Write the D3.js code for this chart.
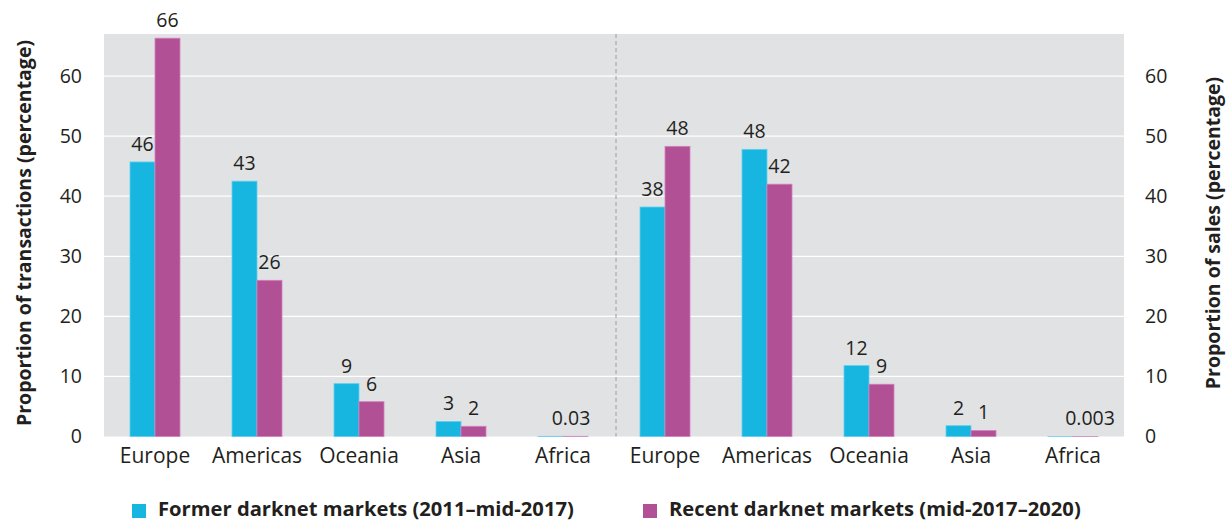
<!DOCTYPE html>
<html><head><meta charset="utf-8">
<script src="https://cdn.jsdelivr.net/npm/d3@7"></script>
<style>body{margin:0;background:#fff;} text{font-family:"Open Sans",sans-serif;fill:#231f20;}</style>
</head><body><svg id="c" width="1226" height="522"></svg>
<script>
const categories = ["Europe","Americas","Oceania","Asia","Africa","Europe","Americas","Oceania","Asia","Africa"];
const former = [45.7, 42.5, 8.8, 2.5, 0.03, 38.2, 47.8, 11.8, 1.8, 0.003];
const recent = [66.3, 26.0, 5.8, 1.7, 0.03, 48.3, 42.0, 8.7, 1.0, 0.003];
const formerLabels = ["46","43","9","3","","38","48","12","2",""];
const recentLabels = ["66","26","6","2","","48","42","9","1",""];
const groupLabels = ["","","","","0.03","","","","","0.003"];
const yTicks = [0,10,20,30,40,50,60];
const seriesNames = ["Former darknet markets (2011\u2013mid-2017)","Recent darknet markets (mid-2017\u20132020)"];
const colors = ["#17b6e1","#b25096"];
const strokes = ["#5fd0ef","#d47fbf"];

const svg = d3.select("#c");
const L=104,R=1124,T=34,B=436.5;
const x = d3.scaleBand().domain(d3.range(categories.length)).range([L,R]).paddingInner(0).paddingOuter(0);
const xs = d3.scaleBand().domain([0,1]).range([0,50]);
const y = d3.scaleLinear().domain([0,67]).range([B,T]);

svg.append("rect").attr("x",L).attr("y",T).attr("width",R-L).attr("height",B-T).attr("fill","#e1e2e4");
svg.append("g").selectAll("line").data(yTicks.filter(d=>d>0)).join("line")
  .attr("x1",L).attr("x2",R).attr("y1",d=>y(d)).attr("y2",d=>y(d)).attr("stroke","#fff").attr("stroke-width",1.2);
const mid = x(5);
svg.append("line").attr("x1",mid+2).attr("x2",mid+2).attr("y1",T).attr("y2",B)
  .attr("stroke","#a8a9ab").attr("stroke-dasharray","4,3").attr("stroke-width",1.2);

const off = d => x(d) + (x.bandwidth()-50)/2;
[former,recent].forEach((vals,si)=>{
  svg.append("g").selectAll("rect").data(vals).join("rect")
    .attr("x",(v,i)=>off(i)+xs(si)).attr("width",xs.bandwidth())
    .attr("y",v=>y(v)).attr("height",v=>B-y(v))
    .attr("fill",colors[si]).attr("stroke",strokes[si]).attr("stroke-width",0.8);
});
[formerLabels,recentLabels].forEach((labs,si)=>{
  const vals = si===0?former:recent;
  svg.append("g").selectAll("text").data(labs).join("text")
    .attr("x",(t,i)=>off(i)+xs(si)+xs.bandwidth()/2).attr("y",(t,i)=>y(vals[i])-11)
    .attr("text-anchor","middle").attr("font-size",19.5).text(t=>t);
});
svg.append("g").selectAll("text").data(groupLabels).join("text")
  .attr("x",(t,i)=>x(i)+x.bandwidth()/2+ (i===4?8:17)).attr("y",(t,i)=>y(Math.max(former[i],recent[i]))-11)
  .attr("text-anchor","middle").attr("font-size",19.5).text(t=>t);

// axes
const yl = svg.append("g").attr("transform",`translate(${L},0)`).call(d3.axisLeft(y).tickValues(yTicks).tickSize(0).tickPadding(22));
yl.select(".domain").remove(); yl.selectAll("text").attr("font-size",19.5).attr("font-family","Open Sans").attr("fill","#231f20");
const yr = svg.append("g").attr("transform",`translate(${R},0)`).call(d3.axisRight(y).tickValues(yTicks).tickSize(0).tickPadding(21));
yr.select(".domain").remove(); yr.selectAll("text").attr("font-size",19.5).attr("font-family","Open Sans").attr("fill","#231f20");
const xa = svg.append("g").attr("transform",`translate(0,${B})`).call(d3.axisBottom(x).tickFormat(i=>categories[i]).tickSize(0).tickPadding(12));
xa.select(".domain").remove(); xa.selectAll("text").attr("font-size",21).attr("font-family","Open Sans").attr("fill","#231f20");

svg.append("text").attr("transform",`translate(31,233) rotate(-90)`).attr("text-anchor","middle")
  .attr("font-size",19.5).attr("font-weight","bold").text("Proportion of transactions (percentage)");
svg.append("text").attr("transform",`translate(1220,233) rotate(-90)`).attr("text-anchor","middle")
  .attr("font-size",19.5).attr("font-weight","bold").text("Proportion of sales (percentage)");

// legend
const lx=[132,643];
seriesNames.forEach((n,i)=>{
  svg.append("rect").attr("x",lx[i]).attr("y",504).attr("width",14).attr("height",14).attr("fill",colors[i]);
  svg.append("text").attr("x",lx[i]+26).attr("y",516).attr("font-size",20.2).attr("font-weight","bold").text(n);
});
</script></body></html>
